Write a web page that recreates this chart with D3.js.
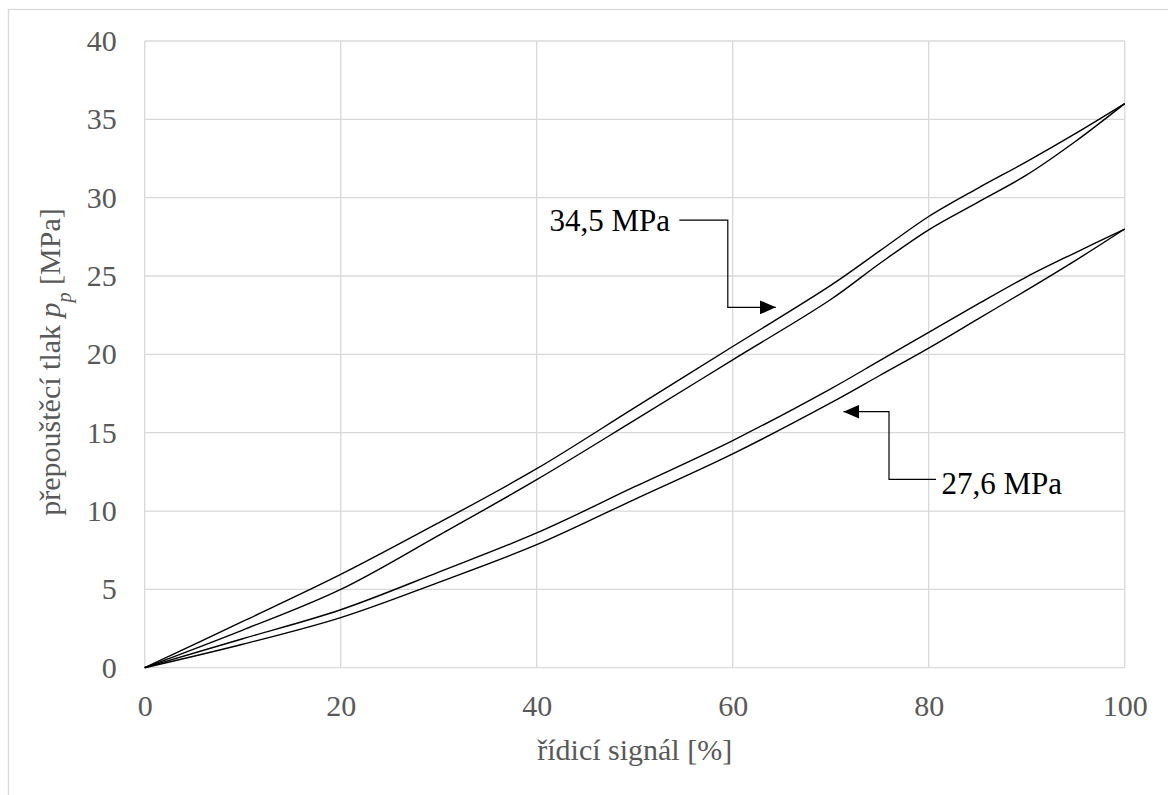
<!DOCTYPE html>
<html>
<head>
<meta charset="utf-8">
<script src="https://cdn.jsdelivr.net/npm/d3@7"></script>
<style>
  html, body { margin: 0; padding: 0; background: #fff; }
  svg, svg text, svg tspan {
    font-family: "Liberation Serif", "Times New Roman", Times, Tinos, "DejaVu Serif", "Noto Serif", FreeSerif, "Nimbus Roman", serif;
  }
</style>
</head>
<body>
<svg id="chart" width="1168" height="795"></svg>
<script>
// Control signal [%] at which the pressures were sampled
const signal = [0, 10, 20, 30, 40, 50, 60, 70, 75, 80, 85, 90, 95, 100];

// Relief pressure p_p [MPa] – 34,5 MPa setting (rising / falling branch)
const p345Upper = [0, 2.95, 5.95, 9.25, 12.7, 16.6, 20.5, 24.4, 26.6, 28.8, 30.6, 32.3, 34.1, 36];
const p345Lower = [0, 2.4, 5.0, 8.45, 12.0, 15.8, 19.65, 23.5, 25.8, 27.95, 29.7, 31.45, 33.6, 36];

// Relief pressure p_p [MPa] – 27,6 MPa setting (rising / falling branch)
const p276Upper = [0, 1.85, 3.7, 6.1, 8.6, 11.55, 14.5, 17.8, 19.6, 21.4, 23.2, 24.95, 26.5, 28];
const p276Lower = [0, 1.5, 3.2, 5.45, 7.85, 10.75, 13.65, 16.9, 18.65, 20.4, 22.25, 24.1, 26.0, 28];

const xTicks = [0, 20, 40, 60, 80, 100];
const yTicks = [0, 5, 10, 15, 20, 25, 30, 35, 40];

const xTitle = "řídicí signál [%]";

// Callout labels: text, label anchor and elbow connector (data units)
const callouts = [
  { text: "34,5 MPa", anchor: "end",   tx: 53.6, ty: 27.85, path: [[54.55, 28.57], [59.5, 28.57], [59.5, 23.0], [64.4, 23.0]] },
  { text: "27,6 MPa", anchor: "start", tx: 81.3, ty: 11.1,  path: [[80.75, 12.02], [75.95, 12.02], [75.95, 16.34], [71.3, 16.34]] }
];

const FONT = '"Liberation Serif", "Times New Roman", Times, Tinos, "DejaVu Serif", "Noto Serif", FreeSerif, "Nimbus Roman", serif';
const svg = d3.select("#chart");
const W = 1168, H = 795;
const margin = { left: 144.7, right: W - 1124.7, top: 41, bottom: H - 667.7 };

svg.append("rect").attr("width", W).attr("height", H).attr("fill", "#fff");
// outer chart frame
svg.append("rect")
  .attr("x", 8.5).attr("y", 9.5).attr("width", 1200).attr("height", 900)
  .attr("fill", "none").attr("stroke", "#d9d9d9").attr("stroke-width", 1.3);

const x = d3.scaleLinear().domain([0, 100]).range([margin.left, W - margin.right]);
const y = d3.scaleLinear().domain([0, 40]).range([H - margin.bottom, margin.top]);

const grid = svg.append("g").attr("stroke", "#d9d9d9").attr("stroke-width", 1.3);
grid.selectAll("line.v").data(xTicks).join("line")
  .attr("x1", d => x(d)).attr("x2", d => x(d))
  .attr("y1", y(0)).attr("y2", y(40));
grid.selectAll("line.h").data(yTicks).join("line")
  .attr("x1", x(0)).attr("x2", x(100))
  .attr("y1", d => y(d)).attr("y2", d => y(d));

const tickFont = 30;
const xAxis = svg.append("g")
  .attr("transform", `translate(0,${y(0)})`)
  .call(d3.axisBottom(x).tickValues(xTicks).tickSize(0).tickPadding(27).tickFormat(d3.format("d")));
const yAxis = svg.append("g")
  .attr("transform", `translate(${x(0)},0)`)
  .call(d3.axisLeft(y).tickValues(yTicks).tickSize(0).tickPadding(28).tickFormat(d3.format("d")));
[xAxis, yAxis].forEach(a => {
  a.attr("font-family", FONT).attr("font-size", tickFont);
  a.select(".domain").remove();
  a.selectAll("text").attr("fill", "#595959");
});

// axis titles
svg.append("text")
  .attr("x", x(50)).attr("y", 760)
  .attr("text-anchor", "middle").attr("fill", "#595959")
  .attr("font-family", FONT).attr("font-size", 30)
  .text(xTitle);

const yt = svg.append("text")
  .attr("transform", `translate(60,362) rotate(-90)`)
  .attr("text-anchor", "middle").attr("fill", "#595959")
  .attr("font-family", FONT).attr("font-size", 30);
yt.append("tspan").text("přepouštěcí tlak ");
yt.append("tspan").attr("font-style", "italic").text("p");
yt.append("tspan").attr("font-style", "italic").attr("baseline-shift", "sub").attr("font-size", 20).text("p");
yt.append("tspan").text(" [MPa]");

// curves
const line = d3.line().x(d => x(d[0])).y(d => y(d[1])).curve(d3.curveCatmullRom.alpha(0.5));
[p345Upper, p345Lower, p276Upper, p276Lower].forEach(series => {
  svg.append("path")
    .datum(signal.map((s, i) => [s, series[i]]))
    .attr("fill", "none").attr("stroke", "#000").attr("stroke-width", 1.4)
    .attr("stroke-linejoin", "round")
    .attr("d", line);
});

// callouts
svg.append("defs").append("marker")
  .attr("id", "arrow").attr("viewBox", "0 0 16 14")
  .attr("refX", 16).attr("refY", 7)
  .attr("markerWidth", 16).attr("markerHeight", 14)
  .attr("markerUnits", "userSpaceOnUse").attr("orient", "auto")
  .append("path").attr("d", "M0,0L16,7L0,14Z").attr("fill", "#000");

const connector = d3.line().x(d => x(d[0])).y(d => y(d[1]));
callouts.forEach(c => {
  svg.append("path")
    .attr("d", connector(c.path))
    .attr("fill", "none").attr("stroke", "#000").attr("stroke-width", 1.2)
    .attr("marker-end", "url(#arrow)");
  svg.append("text")
    .attr("x", x(c.tx)).attr("y", y(c.ty))
    .attr("text-anchor", c.anchor).attr("fill", "#000")
    .attr("font-family", FONT).attr("font-size", 31)
    .text(c.text);
});
</script>
</body>
</html>
